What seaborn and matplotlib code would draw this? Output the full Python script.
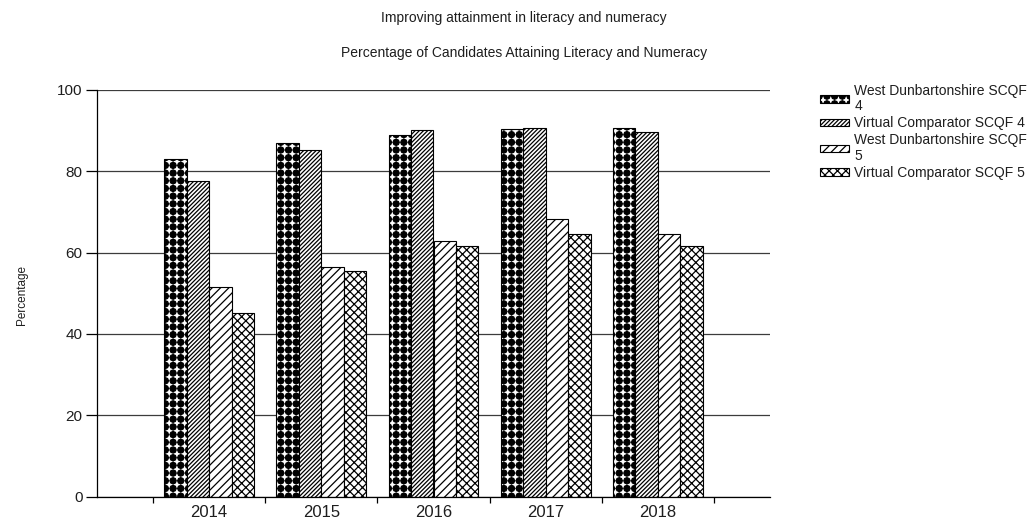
import numpy as np
import pandas as pd
import matplotlib
matplotlib.use("Agg")
import matplotlib.pyplot as plt
import matplotlib.hatch as mhatch
from matplotlib.path import Path
from matplotlib.ticker import FixedLocator
import seaborn as sns

# ---- data -------------------------------------------------------------
years = ["2014", "2015", "2016", "2017", "2018"]
series = [
    "West Dunbartonshire SCQF\n4",
    "Virtual Comparator SCQF 4",
    "West Dunbartonshire SCQF\n5",
    "Virtual Comparator SCQF 5",
]
wd_scqf4 = [83.0, 86.9, 88.9, 90.4, 90.7]
vc_scqf4 = [77.7, 85.2, 90.2, 90.7, 89.7]
wd_scqf5 = [51.6, 56.5, 62.9, 68.3, 64.6]
vc_scqf5 = [45.2, 55.5, 61.6, 64.6, 61.6]

title_1 = "Improving attainment in literacy and numeracy"
title_2 = "Percentage of Candidates Attaining Literacy and Numeracy"
y_label = "Percentage"


# ---- square grid of filled dots, bound to the 'O' hatch character ------
class GridDots(mhatch.HatchPatternBase):
    per_inch = 13
    radius = 0.41

    def __init__(self, hatch, density):
        self.n = self.per_inch if "O" in hatch else 0
        shape = Path.unit_regular_polygon(8)
        self.shape_vertices = shape.vertices
        self.shape_codes = shape.codes
        self.num_vertices = self.n * self.n * len(shape.vertices)

    def set_vertices_and_codes(self, vertices, codes):
        step = 1.0 / self.n
        shape = self.shape_vertices * step * self.radius
        vparts, cparts = [], []
        for i in range(self.n):
            for j in range(self.n):
                vparts.append(shape + [(i + 0.5) * step, (j + 0.5) * step])
                cparts.append(self.shape_codes)
        vertices[:] = np.concatenate(vparts)
        codes[:] = np.concatenate(cparts)


mhatch._hatch_types = [GridDots if t is mhatch.LargeCircles else t
                       for t in mhatch._hatch_types]

# ---- style ------------------------------------------------------------
sns.set_style("white")
plt.rcParams["font.family"] = ["Liberation Sans", "DejaVu Sans"]
plt.rcParams["hatch.linewidth"] = 0.9
plt.rcParams["hatch.color"] = "black"

df = pd.DataFrame({
    "year": np.repeat(years, len(series)),
    "series": series * len(years),
    "value": np.column_stack([wd_scqf4, vc_scqf4, wd_scqf5, vc_scqf5]).ravel(),
})

fig = plt.figure(figsize=(10.36, 5.22), dpi=100)
ax = fig.add_axes([97 / 1036, 1 - 496.5 / 522, 673 / 1036, 406.5 / 522])

sns.barplot(
    data=df, x="year", y="value", hue="series", order=years,
    hue_order=series, palette=["white"] * len(series), saturation=1,
    edgecolor="black", linewidth=0.8, errorbar=None, legend=False, ax=ax,
)

hatches = ["O", "////////", "////", "xxxx"]
for container, hatch in zip(ax.containers, hatches):
    for bar in container:
        bar.set_hatch(hatch)
        bar.set_edgecolor("black")

# ---- axes -------------------------------------------------------------
ax.set_xlim(-1, 5)
ax.set_ylim(0, 100)
ax.set_yticks([0, 20, 40, 60, 80, 100])
ax.yaxis.grid(True, color="#3c3c3c", linewidth=0.9)
ax.xaxis.grid(False)
ax.set_axisbelow(True)

for side in ("top", "right"):
    ax.spines[side].set_visible(False)
for side in ("left", "bottom"):
    ax.spines[side].set_color("black")
    ax.spines[side].set_linewidth(0.9)

ax.xaxis.set_minor_locator(FixedLocator(np.arange(len(years) + 1) - 0.5))
ax.tick_params(axis="x", which="major", length=0, pad=6,
               labelsize=12, labelcolor="#1e1e1e")
ax.tick_params(axis="x", which="minor", bottom=True, length=4,
               width=0.9, color="black")
ax.tick_params(axis="y", left=True, length=8, width=0.9, pad=2.5,
               color="black", labelsize=11, labelcolor="#1e1e1e")

ax.set_xlabel("")
ax.set_ylabel(y_label, fontsize=8.5, color="#1e1e1e")
ax.yaxis.label.set_verticalalignment("center")
ax.yaxis.set_label_coords(-0.111, 0.495)

# ---- titles -----------------------------------------------------------
fig.text(0.506, 1 - 18 / 522, title_1, ha="center", va="center",
         fontsize=10, color="#1e1e1e")
fig.text(0.506, 1 - 53 / 522, title_2, ha="center", va="center",
         fontsize=10, color="#1e1e1e")

# ---- legend -----------------------------------------------------------
leg = ax.legend(
    handles=ax.containers, labels=series,
    loc="upper left", bbox_to_anchor=(820 / 1036, 1 - 84 / 522),
    bbox_transform=fig.transFigure, frameon=False, fontsize=10,
    borderpad=0, borderaxespad=0, handlelength=2.1, handleheight=0.47,
    handletextpad=0.36, labelspacing=0.22, labelcolor="#1e1e1e",
)
for txt in leg.get_texts():
    txt.set_linespacing(1.12)

fig.savefig("out.png", dpi=100)
